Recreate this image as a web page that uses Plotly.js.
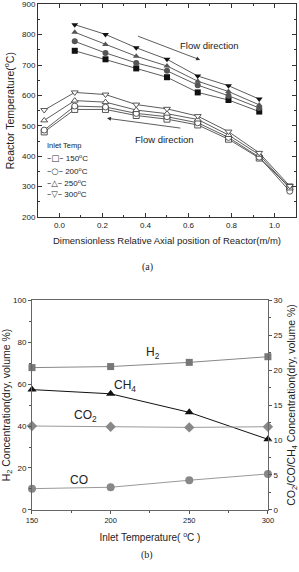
<!DOCTYPE html>
<html>
<head>
<meta charset="utf-8">
<script src="https://cdn.plot.ly/plotly-3.0.1.min.js"></script>
<style>html,body{margin:0;padding:0;background:#fff;}#chart{width:299px;height:572px;}</style>
</head>
<body>
<div id="chart"></div>
<script>
// ---- Panel (a): reactor temperature profiles ----
const positions = [-0.071, 0.071, 0.214, 0.357, 0.5, 0.643, 0.786, 0.929, 1.071];
const inletTemps = ['150<sup>o</sup>C', '200<sup>o</sup>C', '250<sup>o</sup>C', '300<sup>o</sup>C'];
const legendGlyphs = ['□', '○', '△', '▽'];
// upper (filled) profiles at positions[1..7]
const upper150 = [747, 719, 689, 660, 610, 585, 547];
const upper200 = [778, 740, 707, 681, 634, 599, 559];
const upper250 = [808, 768, 729, 697, 647, 613, 569];
const upper300 = [833, 801, 757, 719, 664, 632, 588];
// lower (open) profiles at positions[0..8]
const lower150 = [480, 554, 554, 534, 522, 503, 456, 394, 299];
const lower200 = [486, 565, 562, 541, 530, 510, 462, 397, 285];
const lower250 = [518, 583, 578, 552, 540, 521, 470, 405, 294];
const lower300 = [552, 610, 603, 570, 556, 532, 481, 411, 302];

// ---- Panel (b): product gas composition ----
const inletT = [150, 200, 250, 300];
const h2 = [67.8, 68.3, 70.3, 73.0];        // left axis
const ch4 = [17.2, 16.6, 13.95, 10.1];      // right axis
const co2 = [12.0, 11.9, 11.8, 11.9];       // right axis
const co = [3.05, 3.25, 4.25, 5.15];        // right axis

const upperSets = [upper150, upper200, upper250, upper300];
const lowerSets = [lower150, lower200, lower250, lower300];
const filledSymbols = ['square', 'circle', 'triangle-up', 'triangle-down'];
const filledColors = ['#111', '#555', '#555', '#111'];

const traces = [];
for (let i = 0; i < 4; i++) {
  traces.push({
    x: positions.slice(1, 8), y: upperSets[i], xaxis: 'x', yaxis: 'y',
    mode: 'lines+markers', showlegend: false, cliponaxis: false,
    line: {color: '#333', width: 0.8},
    marker: {symbol: filledSymbols[i], size: 6, color: filledColors[i]}
  });
}
for (let i = 0; i < 4; i++) {
  traces.push({
    x: positions, y: lowerSets[i], xaxis: 'x', yaxis: 'y', name: inletTemps[i],
    mode: 'lines+markers', showlegend: false, cliponaxis: false,
    line: {color: '#333', width: 0.8},
    marker: {symbol: filledSymbols[i], size: 6, color: '#fff', line: {color: '#444', width: 0.9}}
  });
}
traces.push({x: inletT, y: h2, xaxis: 'x2', yaxis: 'y2', mode: 'lines+markers', showlegend: false, cliponaxis: false,
  line: {color: '#888', width: 1}, marker: {symbol: 'square', size: 7, color: '#777'}});
traces.push({x: inletT, y: ch4, xaxis: 'x2', yaxis: 'y3', mode: 'lines+markers', showlegend: false, cliponaxis: false,
  line: {color: '#111', width: 1}, marker: {symbol: 'triangle-up', size: 8, color: '#111'}});
traces.push({x: inletT, y: co2, xaxis: 'x2', yaxis: 'y3', mode: 'lines+markers', showlegend: false, cliponaxis: false,
  line: {color: '#999', width: 1}, marker: {symbol: 'diamond', size: 8, color: '#888'}});
traces.push({x: inletT, y: co, xaxis: 'x2', yaxis: 'y3', mode: 'lines+markers', showlegend: false, cliponaxis: false,
  line: {color: '#999', width: 1}, marker: {symbol: 'circle', size: 8, color: '#888'}});

const fam = 'Liberation Sans, Arial, sans-serif';
const tickFont = {family: fam, size: 8, color: '#222'};
const titleFont = {family: fam, size: 9.5, color: '#222'};
const bigTitleFont = {family: fam, size: 10.5, color: '#222'};

const annotations = [
  {xref: 'x', yref: 'y', x: 0.70, y: 766, text: 'Flow direction', showarrow: false,
   font: {family: fam, size: 9.5, color: '#222'}},
  {xref: 'x', yref: 'y', x: 0.654, y: 717, ax: 0.358, ay: 797, axref: 'x', ayref: 'y', text: '',
   showarrow: true, arrowhead: 2, arrowsize: 1, arrowwidth: 0.8, arrowcolor: '#333'},
  {xref: 'x', yref: 'y', x: 0.49, y: 456, text: 'Flow direction', showarrow: false,
   font: {family: fam, size: 9.5, color: '#222'}},
  {xref: 'x', yref: 'y', x: 0.221, y: 525, ax: 0.569, ay: 492, axref: 'x', ayref: 'y', text: '',
   showarrow: true, arrowhead: 2, arrowsize: 1, arrowwidth: 0.8, arrowcolor: '#333'},
  {xref: 'paper', yref: 'paper', x: 0.492, y: 0.533, text: '(a)', showarrow: false,
   font: {family: 'Liberation Serif, Times New Roman, serif', size: 10, color: '#222'}},
  {xref: 'paper', yref: 'paper', x: 0.492, y: 0.016, text: '(b)', showarrow: false,
   font: {family: 'Liberation Serif, Times New Roman, serif', size: 10, color: '#222'}},
  {xref: 'x2', yref: 'y2', x: 227, y: 75, text: 'H<sub>2</sub>', showarrow: false,
   font: {family: fam, size: 12, color: '#222'}},
  {xref: 'x2', yref: 'y2', x: 209, y: 59, text: 'CH<sub>4</sub>', showarrow: false,
   font: {family: fam, size: 12, color: '#222'}},
  {xref: 'x2', yref: 'y2', x: 184, y: 45, text: 'CO<sub>2</sub>', showarrow: false,
   font: {family: fam, size: 12, color: '#222'}},
  {xref: 'x2', yref: 'y2', x: 180, y: 14.5, text: 'CO', showarrow: false,
   font: {family: fam, size: 12, color: '#222'}},
  // legend (drawn as text)
  {xref: 'paper', yref: 'paper', x: 0.152, y: (572 - 146) / 572, xanchor: 'left', yanchor: 'middle',
   text: 'Inlet Temp', showarrow: false, font: {family: fam, size: 7.5, color: '#222'}}
];
const legendRows = [158, 170.5, 182.5, 194];
for (let i = 0; i < 4; i++) {
  annotations.push({
    xref: 'paper', yref: 'paper', x: 0.150, y: (572 - legendRows[i]) / 572, xanchor: 'left', yanchor: 'middle',
    text: '<span style="font-family:DejaVu Sans;font-size:8.5px;color:#333">–' + legendGlyphs[i] + '–</span> ' + inletTemps[i],
    showarrow: false, font: {family: fam, size: 8, color: '#222'}
  });
}

const layout = {
  width: 299, height: 572,
  margin: {l: 0, r: 0, t: 0, b: 0},
  paper_bgcolor: '#fff', plot_bgcolor: '#fff',
  showlegend: false,
  xaxis: {
    domain: [0.127, 0.990], range: [-0.1, 1.1], anchor: 'y',
    tickvals: [0, 0.2, 0.4, 0.6, 0.8, 1.0], ticktext: ['0.0', '0.2', '0.4', '0.6', '0.8', '1.0'],
    ticks: 'inside', ticklen: 4, tickcolor: '#333', mirror: 'allticks',
    showline: true, linecolor: '#333', linewidth: 1, showgrid: false, zeroline: false,
    minor: {dtick: 0.1, tick0: 0, ticks: 'inside', ticklen: 2, tickcolor: '#333'},
    tickfont: tickFont, ticklabeloverflow: 'allow',
    title: {text: 'Dimensionless Relative Axial position of Reactor(m/m)', font: titleFont, standoff: 8}
  },
  yaxis: {
    domain: [0.6206, 0.9925], range: [200, 900], anchor: 'x',
    tickvals: [200, 300, 400, 500, 600, 700, 800, 900],
    ticks: 'inside', ticklen: 4, tickcolor: '#333', mirror: 'allticks',
    showline: true, linecolor: '#333', linewidth: 1, showgrid: false, zeroline: false,
    minor: {dtick: 50, ticks: 'inside', ticklen: 2, tickcolor: '#333'},
    tickfont: tickFont, ticklabeloverflow: 'allow',
    title: {text: 'Reactor Temperature(<sup>o</sup>C)', font: bigTitleFont, standoff: 5}
  },
  xaxis2: {
    domain: [0.107, 0.896], range: [150, 300], anchor: 'y2',
    tickvals: [150, 200, 250, 300], ticks: 'outside', ticklen: 3, tickcolor: '#555',
    mirror: true, showline: true, linecolor: '#666', linewidth: 1, showgrid: false, zeroline: false,
    minor: {dtick: 25, tick0: 150, ticks: 'outside', ticklen: 2, tickcolor: '#555'},
    tickfont: {family: fam, size: 7.5, color: '#222'}, ticklabeloverflow: 'allow',
    title: {text: 'Inlet Temperature( <sup>o</sup>C )', font: {family: fam, size: 10, color: '#222'}, standoff: 10}
  },
  yaxis2: {
    domain: [0.1084, 0.4755], range: [0, 100], anchor: 'x2',
    tickvals: [0, 20, 40, 60, 80, 100], ticks: 'outside', ticklen: 3, tickcolor: '#555',
    showline: true, linecolor: '#666', linewidth: 1, showgrid: false, zeroline: false,
    minor: {dtick: 10, ticks: 'outside', ticklen: 2, tickcolor: '#555'},
    tickfont: tickFont, ticklabeloverflow: 'allow',
    title: {text: 'H<sub>2</sub> Concentration(dry, volume %)', font: bigTitleFont, standoff: 5}
  },
  yaxis3: {
    overlaying: 'y2', side: 'right', range: [0, 30], anchor: 'x2',
    tickvals: [0, 5, 10, 15, 20, 25, 30], ticks: 'outside', ticklen: 3, tickcolor: '#555',
    showline: true, linecolor: '#666', linewidth: 1, showgrid: false, zeroline: false,
    minor: {dtick: 2.5, ticks: 'outside', ticklen: 2, tickcolor: '#555'},
    tickfont: tickFont, ticklabeloverflow: 'allow',
    title: {text: 'CO<sub>2</sub>/CO/CH<sub>4</sub> Concentration(dry, volume %)', font: bigTitleFont, standoff: 5}
  },
  annotations: annotations
};

Plotly.newPlot('chart', traces, layout, {staticPlot: true, displayModeBar: false});
</script>
</body>
</html>
